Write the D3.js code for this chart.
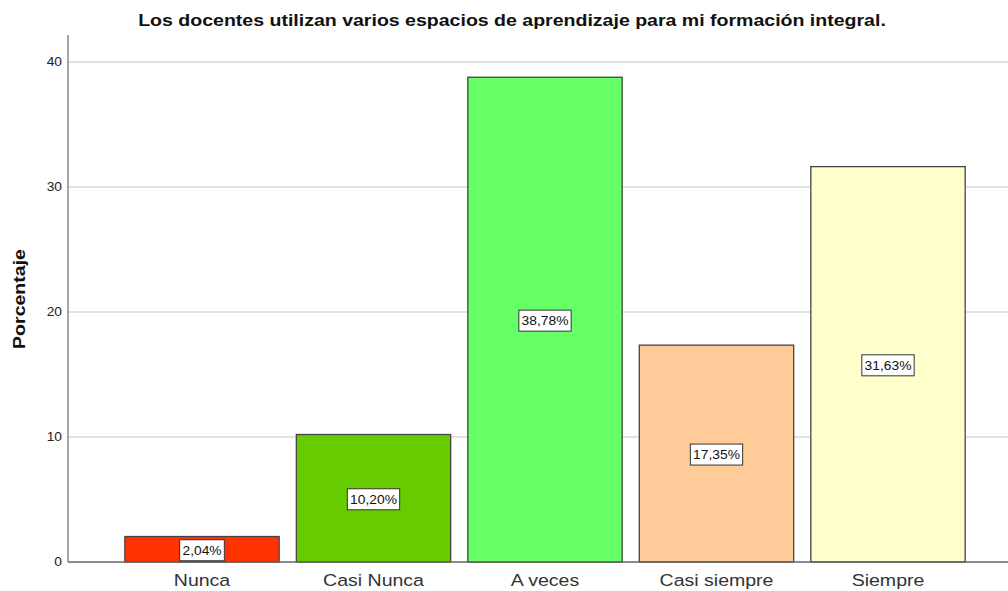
<!DOCTYPE html>
<html><head><meta charset="utf-8">
<script src="https://cdn.jsdelivr.net/npm/d3@7"></script>
<style>body{margin:0;background:#fff}svg{display:block;font-family:Arial,"Liberation Sans",sans-serif}</style>
</head><body>
<svg id="chart" width="1008" height="591"></svg>
<script>
const categories = ["Nunca","Casi Nunca","A veces","Casi siempre","Siempre"];
const values = [2.04, 10.20, 38.78, 17.35, 31.63];
const valueLabels = ["2,04%","10,20%","38,78%","17,35%","31,63%"];
const colors = ["#ff3300","#66cc00","#66ff66","#ffcc99","#ffffcc"];
const yTicks = [0,10,20,30,40];
const title = "Los docentes utilizan varios espacios de aprendizaje para mi formación integral.";
const yTitle = "Porcentaje";

(function(){
const SX = 1.15; // horizontal text stretch seen in the reference
const svg = d3.select("#chart");
const mLeft = 68, mRight = 1008, mBottom = 562, mTop = 62, axisTop = 35;
const x = d3.scaleBand().domain(categories).range([116.25, 973.75]).paddingInner(0.1).paddingOuter(0.05);
const y = d3.scaleLinear().domain([0,40]).range([mBottom, mTop]);

// gridlines
svg.append("g").selectAll("line").data(yTicks.filter(d=>d>0)).join("line")
  .attr("x1", mLeft).attr("x2", mRight).attr("y1", d=>y(d)).attr("y2", d=>y(d))
  .attr("stroke", "#c4c4c4").attr("stroke-width", 1.2);

// y axis
const yAxis = svg.append("g").attr("transform", `translate(${mLeft},0)`)
  .call(d3.axisLeft(y).tickValues(yTicks).tickSize(0).tickPadding(6));
yAxis.select(".domain").remove();
yAxis.selectAll("text").attr("font-size", 12).attr("fill", "#222")
  .attr("font-family","Arial, 'Liberation Sans', sans-serif")
  .attr("x", -6/SX).attr("transform", `scale(${SX},1)`);
svg.append("line").attr("x1", mLeft).attr("x2", mLeft).attr("y1", axisTop).attr("y2", mBottom)
  .attr("stroke", "#888").attr("stroke-width", 1.5);

// bars
svg.append("g").selectAll("rect").data(categories).join("rect")
  .attr("x", d=>x(d)).attr("width", x.bandwidth())
  .attr("y", (d,i)=>y(values[i])).attr("height", (d,i)=>y(0)-y(values[i]))
  .attr("fill", (d,i)=>colors[i]).attr("stroke", "#444").attr("stroke-width", 1.3);

// baseline
svg.append("line").attr("x1", mLeft).attr("x2", mRight).attr("y1", mBottom).attr("y2", mBottom)
  .attr("stroke", "#666").attr("stroke-width", 1.3);

// value labels
const lg = svg.append("g").selectAll("g").data(categories).join("g")
  .attr("transform", (d,i)=>`translate(${x(d)+x.bandwidth()/2},${y(values[i]/2)+1})`);
lg.append("text").text((d,i)=>valueLabels[i]).attr("text-anchor","middle").attr("dy","0.38em")
  .attr("font-size", 12).attr("fill", "#111").attr("transform", `scale(${SX},1)`)
  .each(function(){
    const b = this.getBBox();
    const w = b.width*SX + 5;
    d3.select(this.parentNode).insert("rect","text")
      .attr("x", -w/2).attr("y", -10.5).attr("width", w).attr("height", 21)
      .attr("fill","#fff").attr("stroke","#333").attr("stroke-width",1);
  });

// category labels
svg.append("g").selectAll("text").data(categories).join("text")
  .attr("transform", d=>`translate(${x(d)+x.bandwidth()/2},586) scale(${SX},1)`)
  .attr("text-anchor","middle")
  .attr("font-size", 17).attr("fill", "#333").text(d=>d);

// title
svg.append("text").attr("transform", `translate(512,26) scale(${SX},1)`).attr("text-anchor","middle")
  .attr("font-size", 17).attr("font-weight","bold").attr("fill","#111").text(title);

// y title
svg.append("text").attr("transform",`translate(25,299) rotate(-90) scale(${SX},1)`).attr("text-anchor","middle")
  .attr("font-size", 17).attr("font-weight","bold").attr("fill","#111").text(yTitle);
})();
</script>
</body></html>
